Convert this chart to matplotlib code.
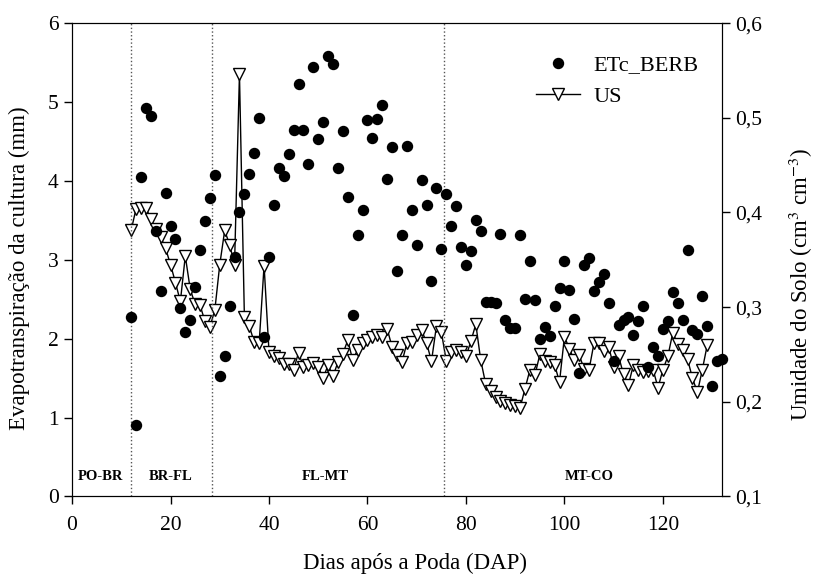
import matplotlib
matplotlib.use("Agg")
import matplotlib.pyplot as plt
from matplotlib.ticker import FuncFormatter

plt.rcParams['font.family'] = ['Liberation Serif', 'DejaVu Serif']
plt.rcParams['mathtext.fontset'] = 'stix'

# ETc_BERB (mm), days 12..132
etc_days = list(range(12, 133))
etc = [2.27, 0.90, 4.05, 4.93, 4.82, 3.37, 2.60, 3.85, 3.43, 3.26,
       2.39, 2.08, 2.24, 2.65, 3.13, 3.49, 3.79, 4.08, 1.53, 1.78,
       2.41, 3.04, 3.61, 3.84, 4.09, 4.36, 4.80, 2.02, 3.04, 3.70,
       4.17, 4.06, 4.34, 4.65, 5.23, 4.65, 4.22, 5.44, 4.53, 4.75,
       5.58, 5.48, 4.17, 4.63, 3.80, 2.30, 3.31, 3.63, 4.77, 4.55,
       4.79, 4.96, 4.02, 4.43, 2.86, 3.31, 4.44, 3.63, 3.19, 4.01,
       3.70, 2.73, 3.91, 3.14, 3.83, 3.43, 3.68, 3.16, 2.94, 3.11,
       3.50, 3.36, 2.47, 2.46, 2.45, 3.33, 2.24, 2.13, 2.13, 3.32,
       2.50, 2.98, 2.49, 2.00, 2.15, 2.04, 2.41, 2.64, 2.99, 2.62,
       2.25, 1.57, 2.94, 3.02, 2.61, 2.72, 2.82, 2.45, 1.72, 2.18,
       2.24, 2.28, 2.05, 2.23, 2.42, 1.64, 1.89, 1.78, 2.12, 2.22,
       2.59, 2.45, 2.24, 3.13, 2.11, 2.06, 2.54, 2.16, 1.40, 1.72,
       1.74]

# US - soil moisture (cm3 cm-3), days 12..129
us_days = list(range(12, 130))
us = [0.381, 0.404, 0.405, 0.405, 0.393, 0.383, 0.374, 0.362, 0.345, 0.326,
      0.306, 0.354, 0.319, 0.303, 0.302, 0.285, 0.279, 0.297, 0.345, 0.381,
      0.366, 0.345, 0.546, 0.290, 0.280, 0.263, 0.262, 0.344, 0.253, 0.248,
      0.246, 0.240, 0.240, 0.234, 0.252, 0.237, 0.239, 0.241, 0.237, 0.225,
      0.239, 0.227, 0.242, 0.251, 0.265, 0.244, 0.255, 0.262, 0.265, 0.269,
      0.271, 0.268, 0.277, 0.258, 0.249, 0.242, 0.262, 0.263, 0.271, 0.276,
      0.262, 0.243, 0.280, 0.274, 0.243, 0.253, 0.255, 0.253, 0.248, 0.264,
      0.282, 0.244, 0.219, 0.211, 0.205, 0.201, 0.199, 0.197, 0.196, 0.194,
      0.214, 0.234, 0.228, 0.250, 0.243, 0.242, 0.239, 0.221, 0.269, 0.256,
      0.244, 0.249, 0.235, 0.234, 0.262, 0.262, 0.254, 0.258, 0.237, 0.248,
      0.229, 0.218, 0.239, 0.234, 0.231, 0.233, 0.234, 0.215, 0.234, 0.248,
      0.273, 0.261, 0.255, 0.245, 0.225, 0.210, 0.234, 0.260]

phase_lines = [12, 28.5, 75.5]
phase_names = ["PO-BR", "BR-FL", "FL-MT", "MT-CO"]
phase_x = [5.7, 20, 51.5, 105]

fig = plt.figure(figsize=(8.14, 5.79), dpi=100)
ax = fig.add_axes([0.0885, 0.1425, 0.7985, 0.8175])
ax2 = ax.twinx()
# dots drawn above the soil moisture line
ax.set_zorder(ax2.get_zorder() + 1)
ax.patch.set_visible(False)

for xv in phase_lines:
    ax.axvline(xv, color="#555555", linestyle=":", linewidth=1)

l1, = ax.plot(etc_days, etc, "o", color="black", markersize=7.2,
              linestyle="none", label="ETc_BERB", clip_on=False, zorder=3)
l2, = ax2.plot(us_days, us, color="black", linewidth=1, marker="v",
               markersize=8.5, markerfacecolor="white", markeredgecolor="black",
               markeredgewidth=1, label="US")

for name, xv in zip(phase_names, phase_x):
    ax.text(xv, 0.25, name, ha="center", va="center", fontsize=10.5,
            fontweight="bold")

ax.set_xlim(0, 132)
ax.set_ylim(0, 6)
ax2.set_ylim(0.1, 0.6)
ax.set_xticks(range(0, 121, 20))
ax.set_yticks(range(0, 7))
ax2.set_yticks([0.1, 0.2, 0.3, 0.4, 0.5, 0.6])
ax2.yaxis.set_major_formatter(FuncFormatter(lambda v, p: f"{v:.1f}".replace(".", ",")))

for a in (ax, ax2):
    a.tick_params(direction="out", length=6, width=1, labelsize=15.5)
ax.tick_params(axis="x", pad=8)

ax.set_xlabel("Dias após a Poda (DAP)", fontsize=16.5)
ax.set_ylabel("Evapotranspiração da cultura (mm)", fontsize=16.5)
ax2.set_ylabel("Umidade do Solo (cm$^{3}$ cm$^{-3}$)", fontsize=16.5)
ax.xaxis.set_label_coords(0.528, -0.118)
ax.yaxis.set_label_coords(-0.065, 0.483)
ax2.yaxis.set_label_coords(1.10, 0.449)

ax2.legend(handles=[l1, l2], loc="upper right", bbox_to_anchor=(0.995, 0.975),
           frameon=False, fontsize=16, handlelength=2.0, handletextpad=0.6)

fig.savefig("out.png", dpi=100)
